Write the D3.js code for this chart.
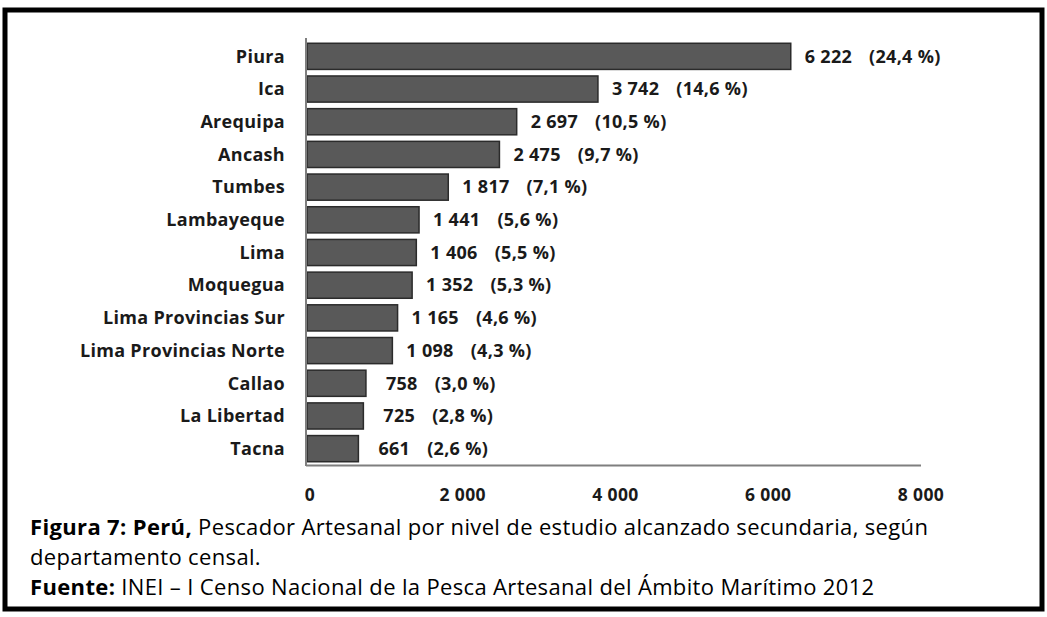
<!DOCTYPE html>
<html lang="es">
<head>
<meta charset="UTF-8">
<title>Figura 7</title>
<style>
  body { margin:0; background:#fff; }
  svg { display:block; }
  .cat { font-family:"Open Sans", sans-serif; font-weight:700; font-size:18px; letter-spacing:0.3px; fill:#1a1a1a; }
  .val { font-family:"Open Sans", sans-serif; font-weight:700; font-size:18px; letter-spacing:0.3px; fill:#1a1a1a; }
  .tick-lbl { font-family:"Open Sans", sans-serif; font-weight:700; font-size:17.5px; letter-spacing:0.4px; fill:#1a1a1a; }
  .cap { font-family:"Open Sans", sans-serif; font-size:22px; letter-spacing:0.35px; fill:#000; }
</style>
</head>
<body>
<svg id="chart"></svg>
<script src="https://cdnjs.cloudflare.com/ajax/libs/d3/7.8.5/d3.min.js"></script>
<script>
// data
const departamentos = ["Piura", "Ica", "Arequipa", "Ancash", "Tumbes", "Lambayeque", "Lima",
    "Moquegua", "Lima Provincias Sur", "Lima Provincias Norte", "Callao", "La Libertad", "Tacna"];
const pescadores = [6222, 3742, 2697, 2475, 1817, 1441, 1406, 1352, 1165, 1098, 758, 725, 661];
const porcentajes = [24.4, 14.6, 10.5, 9.7, 7.1, 5.6, 5.5, 5.3, 4.6, 4.3, 3.0, 2.8, 2.6];
const ticks = [0, 2000, 4000, 6000, 8000];

const W = 1047, H = 617;

const loc = d3.formatLocale({decimal: ",", thousands: " ", grouping: [3], currency: ["", ""]});
const fmtNum = loc.format(",d");
const fmtPct = loc.format(".1f");

const svg = d3.select("#chart").attr("width", W).attr("height", H);

// outer frame
svg.append("rect")
    .attr("x", 5).attr("y", 10)
    .attr("width", 1037).attr("height", 599)
    .attr("fill", "none").attr("stroke", "#000").attr("stroke-width", 5);

const x = d3.scaleLinear().domain([0, 8000]).range([307, 929]);
// the tick labels in the original sit on a slightly different spacing
const xLbl = d3.scaleLinear().domain([0, 8000]).range([310, 921]);
const y = d3.scaleBand().domain(departamentos).range([40, 465])
    .paddingInner(0.2).paddingOuter(0.1);

const rows = departamentos.map((d, i) => ({name: d, v: pescadores[i], p: porcentajes[i]}));

// bars
svg.append("g").selectAll("rect")
    .data(rows)
    .join("rect")
    .attr("x", x(0))
    .attr("y", d => y(d.name))
    .attr("width", d => x(d.v) - x(0))
    .attr("height", y.bandwidth())
    .attr("fill", "#595959")
    .attr("stroke", "#2b2b2b")
    .attr("stroke-width", 1.5);

// axes lines
svg.append("line")
    .attr("x1", x(0) - 1).attr("x2", x(0) - 1)
    .attr("y1", 38).attr("y2", 466)
    .attr("stroke", "#7f7f7f").attr("stroke-width", 2);
svg.append("line")
    .attr("x1", x(0) - 1).attr("x2", xLbl(8000))
    .attr("y1", 465.5).attr("y2", 465.5)
    .attr("stroke", "#7f7f7f").attr("stroke-width", 2);

// category labels
svg.append("g").selectAll("text")
    .data(rows)
    .join("text")
    .attr("class", "cat")
    .attr("x", 285)
    .attr("y", d => y(d.name) + y.bandwidth() / 2)
    .attr("dy", "0.35em")
    .attr("text-anchor", "end")
    .text(d => d.name);

// value labels
const vl = svg.append("g").selectAll("text")
    .data(rows)
    .join("text")
    .attr("class", "val")
    .attr("x", d => x(d.v) + (d.v < 1000 ? 20 : 14))
    .attr("y", d => y(d.name) + y.bandwidth() / 2)
    .attr("dy", "0.35em");
vl.append("tspan").text(d => fmtNum(d.v));
vl.append("tspan").attr("dx", 17).text(d => "(" + fmtPct(d.p) + " %)");

// x tick labels
svg.append("g").selectAll("text")
    .data(ticks)
    .join("text")
    .attr("class", "tick-lbl")
    .attr("x", d => xLbl(d))
    .attr("y", 501)
    .attr("text-anchor", "middle")
    .text(d => fmtNum(d));

// caption
const cap = svg.append("g").attr("class", "cap");
const l1 = cap.append("text").attr("x", 30).attr("y", 535);
l1.append("tspan").attr("font-weight", 700).text("Figura 7: Perú,");
l1.append("tspan").text(" Pescador Artesanal por nivel de estudio alcanzado secundaria, según");
cap.append("text").attr("x", 30).attr("y", 565).text("departamento censal.");
const l3 = cap.append("text").attr("x", 30).attr("y", 595);
l3.append("tspan").attr("font-weight", 700).text("Fuente:");
l3.append("tspan").text(" INEI – I Censo Nacional de la Pesca Artesanal del Ámbito Marítimo 2012");
</script>
</body>
</html>
